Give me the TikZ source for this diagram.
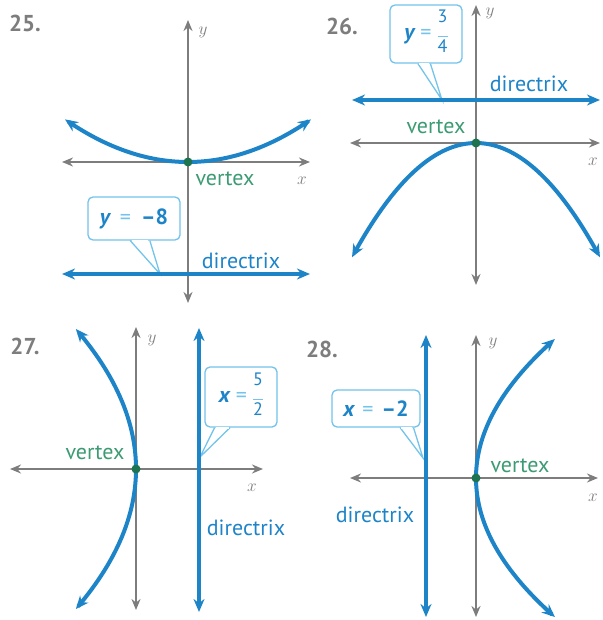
\documentclass[tikz,border=0pt]{standalone}
\usepackage{fontspec}
\setmainfont{PT Sans}
\usetikzlibrary{arrows.meta,calc}
\definecolor{cblue}{RGB}{30,132,200}
\definecolor{clight}{RGB}{115,195,235}
\definecolor{cgray}{RGB}{125,125,125}
\definecolor{cgreen}{RGB}{60,155,115}
\definecolor{cdot}{RGB}{30,115,80}
\newcommand\vfr[2]{\ensuremath{\vcenter{\hbox{\fontsize{18}{18}\selectfont\begin{tabular}{@{}c@{}}#1\\[-4pt]\textcolor{clight}{\rule{10pt}{1pt}}\\[-3pt]#2\end{tabular}}}}}
\begin{document}
\begin{tikzpicture}[x=1pt,y=-1pt,
  axis/.style={draw=cgray, line width=2.3pt, {Stealth[length=11pt,width=9pt]}-{Stealth[length=11pt,width=9pt]}},
  curve/.style={draw=cblue, line width=4pt, {Stealth[length=13pt,width=11pt]}-{Stealth[length=13pt,width=11pt]}},
  dirx/.style={draw=cblue, line width=3.6pt, {Stealth[length=13pt,width=11pt]}-{Stealth[length=13pt,width=11pt]}},
  lbl/.style={inner sep=0pt, font=\fontsize{22}{22}\selectfont},
  vtx/.style={lbl, text=cgreen},
  drx/.style={lbl, text=cblue},
  num/.style={inner sep=0pt, font=\fontsize{23}{23}\selectfont\bfseries, text=cgray},
  axl/.style={inner sep=0pt, font=\fontsize{19}{19}\selectfont, text=cgray},
  callbox/.style={draw=clight, line width=1.3pt, rounded corners=5pt, fill=white, inner sep=0pt, text=cblue, font=\fontsize{22}{22}\selectfont},
  tail/.style={draw=clight, line width=1.3pt},
  vdot/.style={fill=cdot}
]
\useasboundingbox (0,0) rectangle (602,620);

% ---------- 25 ----------
\node[num] (n25) at (25,23) {25.};
\draw[axis] (62,162) -- (310,162);
\draw[axis] (188,20) -- (188,303);
\node[axl] (x25) at (302,181) {$x$};
\node[axl] (y25) at (203,32) {$y$};
\coordinate (v25) at (188,162);
\draw[curve] plot[domain=-123:123, samples=60, smooth] ({188+\x},{162-44*(\x/125)*(\x/125)});
\node[callbox, minimum width=92pt, minimum height=43pt] (b25) at (134,218.5) {{\bfseries\itshape y}\hspace{10pt}\textcolor{clight}{=}\hspace{10pt}\textbf{–8}};
\coordinate (t25) at (160,274);
\draw[tail] ($(b25.south west)!0.46!(b25.south east)$) -- (t25) -- ($(b25.south west)!0.67!(b25.south east)$);
\draw[white, line width=1.9pt] ($(b25.south west)!0.475!(b25.south east)$) -- ($(b25.south west)!0.655!(b25.south east)$);
\draw[dirx] (62,274) -- (310,274);
\fill[vdot] (v25) circle (4.5pt);
\node[vtx] (vl25) at (225,179) {vertex};
\node[drx] (dl25) at (241,261) {directrix};

% ---------- 26 ----------
\node[num] (n26) at (342,26) {26.};
\draw[axis] (350,143) -- (600,143);
\draw[axis] (476,5) -- (476,285);
\node[axl] (x26) at (593,162) {$x$};
\node[axl] (y26) at (490,13) {$y$};
\coordinate (v26) at (476,143);
\draw[curve] plot[domain=-124:124, samples=60, smooth] ({476+\x},{143+118*(\x/126)*(\x/126)});
\node[callbox, minimum width=72pt, minimum height=58pt] (b26) at (426,34) {{\bfseries\itshape y}\hspace{6pt}\textcolor{clight}{=}\hspace{6pt}\vfr{3}{4}};
\coordinate (t26) at (442,100);
\draw[tail] ($(b26.south west)!0.39!(b26.south east)$) -- (t26) -- ($(b26.south west)!0.56!(b26.south east)$);
\draw[white, line width=1.9pt] ($(b26.south west)!0.405!(b26.south east)$) -- ($(b26.south west)!0.545!(b26.south east)$);
\draw[dirx] (352,100) -- (600,100);
\fill[vdot] (v26) circle (4.5pt);
\node[vtx] (vl26) at (436,127) {vertex};
\node[drx] (dl26) at (529,84) {directrix};

% ---------- 27 ----------
\node[num] (n27) at (25,346) {27.};
\draw[axis] (10,469) -- (263,469);
\draw[axis] (136,327) -- (136,610);
\node[axl] (x27) at (252,488) {$x$};
\node[axl] (y27) at (152,340) {$y$};
\coordinate (v27) at (136,469);
\draw[curve] plot[domain=-140:140, samples=60, smooth] ({136-61*(\x/141)*(\x/141)},{469+\x});
\node[callbox, minimum width=72pt, minimum height=60pt] (b27) at (241,397) {{\bfseries\itshape x}\hspace{6pt}\textcolor{clight}{=}\hspace{6pt}\vfr{5}{2}};
\coordinate (t27) at (200,457);
\draw[tail] ($(b27.south west)!0.14!(b27.south east)$) -- (t27) -- ($(b27.south west)!0.35!(b27.south east)$);
\draw[white, line width=1.9pt] ($(b27.south west)!0.155!(b27.south east)$) -- ($(b27.south west)!0.335!(b27.south east)$);
\draw[dirx] (199,328) -- (199,612);
\fill[vdot] (v27) circle (4.5pt);
\node[vtx] (vl27) at (95,453) {vertex};
\node[drx] (dl27) at (246,528) {directrix};

% ---------- 28 ----------
\node[num] (n28) at (322,349) {28.};
\draw[axis] (350,478) -- (598,478);
\draw[axis] (476,335) -- (476,617);
\node[axl] (x28) at (593,498) {$x$};
\node[axl] (y28) at (493,343) {$y$};
\coordinate (v28) at (476,478);
\draw[curve] plot[domain=-139:139, samples=60, smooth] ({476+80*(\x/140)*(\x/140)},{478+\x});
\node[callbox, minimum width=88pt, minimum height=37pt] (b28) at (376,408.5) {{\bfseries\itshape x}\hspace{8pt}\textcolor{clight}{=}\hspace{8pt}\textbf{–2}};
\coordinate (t28) at (423,458);
\draw[tail] ($(b28.south west)!0.77!(b28.south east)$) -- (t28) -- ($(b28.south west)!0.92!(b28.south east)$);
\draw[white, line width=1.9pt] ($(b28.south west)!0.785!(b28.south east)$) -- ($(b28.south west)!0.905!(b28.south east)$);
\draw[dirx] (426,335) -- (426,617);
\fill[vdot] (v28) circle (4.5pt);
\node[vtx] (vl28) at (520,466) {vertex};
\node[drx] (dl28) at (375,515) {directrix};
\end{tikzpicture}
\end{document}
